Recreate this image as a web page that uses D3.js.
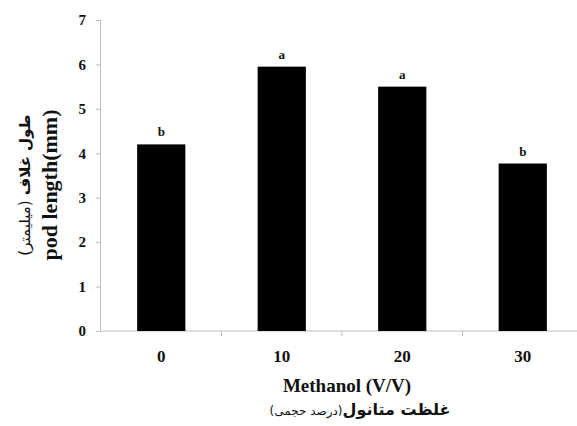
<!DOCTYPE html>
<html><head><meta charset="utf-8">
<script src="https://cdn.jsdelivr.net/npm/d3@7"></script>
<style>body{margin:0;background:#fff}svg{display:block}</style>
</head><body>
<svg id="c" width="577" height="426"></svg>
<script>
const categories = ["0", "10", "20", "30"];
const values = [4.2, 5.95, 5.5, 3.77];
const letters = ["b", "a", "a", "b"];
const yTicks = [0, 1, 2, 3, 4, 5, 6, 7];
const xTitle = "Methanol (V/V)";
const xTitleFa = "غلظت متانول";
const xTitleFaSmall = "(درصد حجمی)";
const yTitle = "pod length(mm)";
const yTitleFa = "طول غلاف";
const yTitleFaSmall = "(میلیمتر)";

const svg = d3.select("#c");
const axisX = 100, xEnd = 583, y0 = 331, y7 = 20;
const x = d3.scaleBand().domain(categories).range([axisX + 1, xEnd]).paddingInner(0.6).paddingOuter(0.3);
const xb = d3.scaleBand().domain(categories).range([axisX + 1, xEnd]);
const y = d3.scaleLinear().domain([0, 7]).range([y0, y7]);

const serif = "'Liberation Serif','Times New Roman',serif";
const axColor = "#bdbdbd";

// y axis
const ya = svg.append("g").attr("transform", `translate(${axisX},0)`)
  .call(d3.axisLeft(y).tickValues(yTicks).tickFormat(d3.format("d")).tickSizeOuter(0).tickSize(4));
ya.select(".domain").attr("stroke", axColor);
ya.selectAll(".tick line").attr("stroke", axColor);
ya.selectAll(".tick text").attr("font-family", serif).attr("font-weight", "bold")
  .attr("font-size", 15).attr("fill", "#111").attr("x", -14);

// x axis with ticks at band boundaries
const xa = svg.append("g").attr("transform", `translate(0,${y(0)})`);
xa.append("line").attr("x1", axisX).attr("x2", xEnd).attr("stroke", axColor);
const bounds = categories.slice(1).map(c => xb(c));
xa.selectAll(".bt").data(bounds).join("line").attr("class", "bt")
  .attr("x1", d => d).attr("x2", d => d).attr("y1", 0).attr("y2", 5).attr("stroke", axColor);
xa.selectAll(".xl").data(categories).join("text").attr("class", "xl")
  .attr("x", d => xb(d) + xb.bandwidth() / 2).attr("y", 31)
  .attr("text-anchor", "middle").attr("font-family", serif).attr("font-weight", "bold")
  .attr("font-size", 17).attr("fill", "#111").text(d => d);

// bars
svg.selectAll(".bar").data(values).join("rect").attr("class", "bar")
  .attr("x", (d, i) => x(categories[i])).attr("width", x.bandwidth())
  .attr("y", d => y(d)).attr("height", d => y(0) - y(d)).attr("fill", "#000");

// letters
svg.selectAll(".lt").data(values).join("text").attr("class", "lt")
  .attr("x", (d, i) => x(categories[i]) + x.bandwidth() / 2).attr("y", d => y(d) - 8)
  .attr("text-anchor", "middle").attr("font-family", serif).attr("font-weight", "bold")
  .attr("font-size", 13).attr("fill", "#111").text((d, i) => letters[i]);

// x titles
svg.append("text").attr("x", 347).attr("y", 392).attr("text-anchor", "middle")
  .attr("font-family", serif).attr("font-weight", "bold").attr("font-size", 19).attr("fill", "#111").text(xTitle);
const fx = svg.append("text").attr("x", 360).attr("y", 415).attr("text-anchor", "middle")
  .attr("direction", "rtl").attr("font-family", "'DejaVu Sans',sans-serif").attr("font-weight", "bold")
  .attr("font-size", 16).attr("fill", "#111");
fx.append("tspan").text(xTitleFa);
fx.append("tspan").attr("font-size", 12).attr("font-weight", "normal").text(xTitleFaSmall);

// y titles
svg.append("text").attr("transform", "translate(57,185) rotate(-90)").attr("text-anchor", "middle")
  .attr("font-family", serif).attr("font-weight", "bold").attr("font-size", 22).attr("fill", "#111").text(yTitle);
const fy = svg.append("text").attr("transform", "translate(30,185) rotate(-90)").attr("text-anchor", "middle")
  .attr("direction", "rtl").attr("font-family", "'DejaVu Sans',sans-serif").attr("font-weight", "bold")
  .attr("font-size", 15).attr("fill", "#111");
fy.append("tspan").text(yTitleFa + " ");
fy.append("tspan").attr("font-size", 15).attr("font-weight", "normal").text(yTitleFaSmall);
</script>
</body></html>
